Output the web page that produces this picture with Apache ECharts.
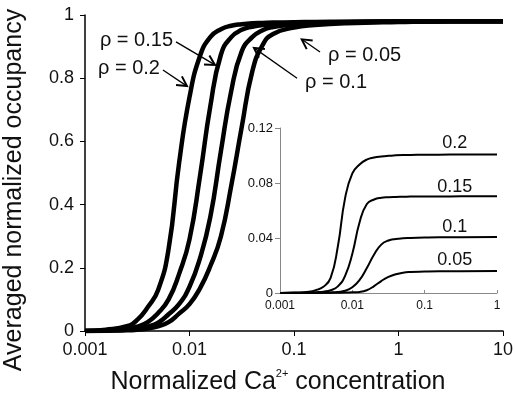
<!DOCTYPE html>
<html><head><meta charset="utf-8">
<script src="https://cdn.jsdelivr.net/npm/echarts@6/dist/echarts.min.js"></script>
<style>html,body{margin:0;padding:0;background:#fff}#c{width:516px;height:401px}</style>
</head><body><div id="c"></div>
<script>
// ---- data ----
const mainX = [0.001, 0.00158, 0.00251, 0.00316, 0.00398, 0.00501, 0.00631, 0.00794, 0.01, 0.0126, 0.0158, 0.02, 0.0251, 0.0316, 0.0398, 0.0501, 0.0631, 0.1, 0.158, 0.316, 1, 3.16, 10];
const rho20 = [0.0, 0.004, 0.015, 0.035, 0.075, 0.13, 0.26, 0.53, 0.74, 0.87, 0.93, 0.955, 0.966, 0.971, 0.974, 0.975, 0.976, 0.977, 0.978, 0.979, 0.98, 0.98, 0.98];
const rho15 = [0.0, 0.002, 0.008, 0.014, 0.028, 0.057, 0.10, 0.18, 0.29, 0.49, 0.71, 0.875, 0.93, 0.953, 0.963, 0.968, 0.971, 0.974, 0.976, 0.978, 0.979, 0.98, 0.98];
const rho10 = [0.0, 0.001, 0.004, 0.008, 0.014, 0.026, 0.053, 0.085, 0.14, 0.23, 0.36, 0.57, 0.76, 0.885, 0.93, 0.952, 0.962, 0.97, 0.974, 0.977, 0.979, 0.98, 0.98];
const rho05 = [0.0, 0.001, 0.002, 0.004, 0.008, 0.015, 0.028, 0.055, 0.085, 0.135, 0.205, 0.30, 0.46, 0.645, 0.82, 0.905, 0.94, 0.96, 0.968, 0.974, 0.978, 0.98, 0.98];

const insetX = [0.001, 0.00158, 0.00251, 0.00316, 0.00398, 0.00501, 0.00631, 0.00794, 0.01, 0.0126, 0.0158, 0.02, 0.0251, 0.0316, 0.0398, 0.0501, 0.0631, 0.1, 0.158, 0.316, 1];
const in20 = [0, 0.0003, 0.001, 0.0022, 0.0045, 0.011, 0.034, 0.069, 0.087, 0.0935, 0.097, 0.0985, 0.0993, 0.0998, 0.1001, 0.1003, 0.1004, 0.1005, 0.1006, 0.1007, 0.1008];
const in15 = [0, 0.0001, 0.0003, 0.0006, 0.001, 0.002, 0.0048, 0.0125, 0.0286, 0.0515, 0.0645, 0.068, 0.0693, 0.0697, 0.0699, 0.07, 0.0701, 0.0702, 0.0702, 0.0703, 0.0704];
const in10 = [0, 0, 0.0001, 0.0001, 0.0002, 0.0004, 0.0008, 0.0016, 0.0042, 0.0095, 0.018, 0.028, 0.0352, 0.0382, 0.0393, 0.0398, 0.04, 0.0403, 0.0405, 0.0406, 0.0407];
const in05 = [0, 0, 0, 0, 0.0001, 0.0001, 0.0002, 0.0003, 0.0005, 0.0008, 0.002, 0.005, 0.0087, 0.0117, 0.0136, 0.0148, 0.0153, 0.0156, 0.0158, 0.0159, 0.016];

const mainXTicks = ['0.001', '0.01', '0.1', '1', '10'];
const mainYTicks = ['0', '0.2', '0.4', '0.6', '0.8', '1'];
const insetXTicks = ['0.001', '0.01', '0.1', '1'];
const insetYTicks = ['0', '0.04', '0.08', '0.12'];
const rhoNames = ['ρ = 0.2', 'ρ = 0.15', 'ρ = 0.1', 'ρ = 0.05'];
const insetNames = ['0.2', '0.15', '0.1', '0.05'];

// ---- chart ----
const FONT = '"Liberation Sans", Arial, sans-serif';
const chart = echarts.init(document.getElementById('c'));
const pairs = (xs, ys) => xs.map((x, i) => [x, ys[i]]);
const decIdx = v => Math.round(Math.log10(v));

function mainLine(ys) {
  return { type: 'line', xAxisIndex: 0, yAxisIndex: 0, data: pairs(mainX, ys), showSymbol: false,
    smooth: 0.5, lineStyle: { color: '#000', width: 4.5, join: 'round' }, z: 3 };
}
function insetLine(ys) {
  return { type: 'line', xAxisIndex: 1, yAxisIndex: 1, data: pairs(insetX, ys), showSymbol: false,
    smooth: 0.5, lineStyle: { color: '#000', width: 2, join: 'round' }, z: 4 };
}

const option = {
  animation: false,
  backgroundColor: '#fff',
  grid: [
    { left: 85, top: 15, width: 418, height: 316 },
    { left: 280, top: 128, width: 217, height: 165 }
  ],
  xAxis: [
    { type: 'log', logBase: 10, min: 0.001, max: 10, gridIndex: 0,
      axisLine: { lineStyle: { color: '#000', width: 1.5 } },
      axisTick: { show: true, length: 5, lineStyle: { color: '#000', width: 1 } },
      minorTick: { show: false }, splitLine: { show: false },
      axisLabel: { fontSize: 18, color: '#111', fontFamily: FONT, margin: 10,
        formatter: v => mainXTicks[decIdx(v) + 3] } },
    { type: 'log', logBase: 10, min: 0.001, max: 1, gridIndex: 1,
      axisLine: { lineStyle: { color: '#888', width: 1 } },
      axisTick: { show: true, inside: true, length: 3, lineStyle: { color: '#888', width: 1 } },
      minorTick: { show: false }, splitLine: { show: false },
      axisLabel: { fontSize: 12, color: '#111', fontFamily: FONT, margin: 7,
        formatter: v => insetXTicks[decIdx(v) + 3] } }
  ],
  yAxis: [
    { type: 'value', min: 0, max: 1, interval: 0.2, gridIndex: 0,
      axisLine: { show: true, lineStyle: { color: '#000', width: 1.5 } },
      axisTick: { show: true, length: 5, lineStyle: { color: '#000', width: 1 } },
      splitLine: { show: false },
      axisLabel: { fontSize: 18, color: '#111', fontFamily: FONT, margin: 11,
        formatter: v => mainYTicks[Math.round(v / 0.2)] } },
    { type: 'value', min: 0, max: 0.12, interval: 0.04, gridIndex: 1,
      axisLine: { show: true, lineStyle: { color: '#888', width: 1 } },
      axisTick: { show: true, length: 5, lineStyle: { color: '#888', width: 1 } },
      splitLine: { show: false },
      axisLabel: { fontSize: 13, color: '#111', fontFamily: FONT, margin: 7,
        formatter: v => insetYTicks[Math.round(v / 0.04)] } }
  ],
  series: [
    mainLine(rho20), mainLine(rho15), mainLine(rho10), mainLine(rho05),
    insetLine(in20), insetLine(in15), insetLine(in10), insetLine(in05)
  ]
};
chart.setOption(option);

// ---- annotations anchored to data coordinates ----
const arrows = [
  { name: rhoNames[0], tail: [0.00557, 0.826], tip: [0.00946, 0.775], side: 'left' },
  { name: rhoNames[1], tail: [0.00743, 0.915], tip: [0.01754, 0.842], side: 'left' },
  { name: rhoNames[2], tail: [0.107, 0.80], tip: [0.0414, 0.896], side: 'right' },
  { name: rhoNames[3], tail: [0.1775, 0.883], tip: [0.1186, 0.923], side: 'right' }
];
const insetLabelPos = [[0.26, 0.1089], [0.26, 0.0769], [0.26, 0.0478], [0.26, 0.0238]];

const g = [];
arrows.forEach(a => {
  const t = chart.convertToPixel({ gridIndex: 0 }, a.tail);
  const p = chart.convertToPixel({ gridIndex: 0 }, a.tip);
  g.push({ type: 'line', shape: { x1: t[0], y1: t[1], x2: p[0], y2: p[1] }, style: { stroke: '#000', lineWidth: 1.3 }, z: 10 });
  const ang = Math.atan2(t[1] - p[1], t[0] - p[0]);
  const L = 11, w = 0.5;
  g.push({ type: 'polyline', shape: { points: [
      [p[0] + L * Math.cos(ang + w), p[1] + L * Math.sin(ang + w)], [p[0], p[1]],
      [p[0] + L * Math.cos(ang - w), p[1] + L * Math.sin(ang - w)]] },
    style: { stroke: '#000', lineWidth: 2, fill: null }, z: 10 });
  const left = a.side === 'left';
  g.push({ type: 'text', x: t[0] + (left ? -3 : 8), y: t[1] + (left ? -1 : 4),
    style: { text: a.name, fontSize: 20, fontFamily: FONT, fill: '#111', align: left ? 'right' : 'left', verticalAlign: 'middle' }, z: 10 });
});
insetLabelPos.forEach((c, i) => {
  const p = chart.convertToPixel({ gridIndex: 1 }, c);
  g.push({ type: 'text', x: p[0], y: p[1], style: { text: insetNames[i], fontSize: 18, fontFamily: FONT, fill: '#111', align: 'center', verticalAlign: 'middle' }, z: 10 });
});
// axis titles
g.push({ type: 'text', x: 278, y: 382,
  style: { text: '{a|Normalized Ca}{s|2+}{a| concentration}', fontFamily: FONT, fill: '#111', align: 'center', verticalAlign: 'middle',
    rich: { a: { fontSize: 25, fontFamily: FONT, fill: '#111', lineHeight: 28 },
            s: { fontSize: 11, fontFamily: FONT, fill: '#111', verticalAlign: 'top', lineHeight: 14 } } } });
g.push({ type: 'text', x: 14, y: 190, rotation: Math.PI / 2,
  style: { text: 'Averaged normalized occupancy', fontSize: 25, fontFamily: FONT, fill: '#111', align: 'center', verticalAlign: 'middle' } });
chart.setOption({ graphic: g });
</script></body></html>
